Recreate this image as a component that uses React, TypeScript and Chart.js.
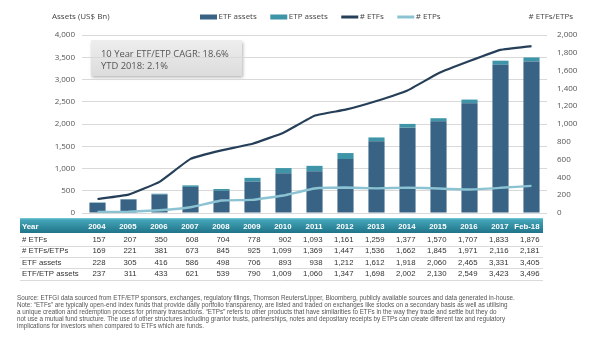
import React, { useEffect, useRef } from 'react';
import { Chart, registerables } from 'chart.js';

Chart.register(...registerables);

const years = ['2004', '2005', '2006', '2007', '2008', '2009', '2010', '2011', '2012', '2013', '2014', '2015', '2016', '2017', 'Feb-18'];
const numETFs = [157, 207, 350, 608, 704, 778, 902, 1093, 1161, 1259, 1377, 1570, 1707, 1833, 1876];
const numETFsETPs = [169, 221, 381, 673, 845, 925, 1099, 1369, 1447, 1536, 1662, 1845, 1971, 2116, 2181];
const etfAssets = [228, 305, 416, 586, 498, 706, 893, 938, 1212, 1612, 1918, 2060, 2465, 3331, 3405];
const etfEtpAssets = [237, 311, 433, 621, 539, 790, 1009, 1060, 1347, 1698, 2002, 2130, 2549, 3423, 3496];

// ETP-only values (difference between ETF/ETP totals and ETF values)
const etpAssets = etfEtpAssets.map((v, i) => v - etfAssets[i]);
const numETPs = numETFsETPs.map((v, i) => v - numETFs[i]);

const leftMax = 4000;
const leftStep = 500;
const rightMax = 2000;
const rightStep = 200;

const tableRowLabels = ['# ETFs', '# ETFs/ETPs', 'ETF assets', 'ETF/ETP assets'];
const tableRowValues = [numETFs, numETFsETPs, etfAssets, etfEtpAssets];

const cagrLines = ['10 Year ETF/ETP CAGR: 18.6%', 'YTD 2018: 2.1%'];

const noteLines = [
  'Source: ETFGI data sourced from ETF/ETP sponsors, exchanges, regulatory filings, Thomson Reuters/Lipper, Bloomberg, publicly available sources and data generated in-house.',
  'Note: \u201CETFs\u201D are typically open-end index funds that provide daily portfolio transparency, are listed and traded on exchanges like stocks on a secondary basis as well as utilising',
  'a unique creation and redemption process for primary transactions. \u201CETPs\u201D refers to other products that have similarities to ETFs in the way they trade and settle but they do',
  'not use a mutual fund structure. The use of other structures including grantor trusts, partnerships, notes and depositary receipts by ETPs can create different tax and regulatory',
  'implications for investors when compared to ETFs which are funds.',
];

const C_ETF = '#386385';
const C_ETP = '#3f95a8';
const C_LINE_ETF = '#263f58';
const C_LINE_ETP = '#8cc3d3';
const AXIS_FONT = "'Open Sans', 'DejaVu Sans', sans-serif";
const TABLE_FONT = "'Liberation Sans', Arial, sans-serif";

const fmt = (v: number) => v.toLocaleString('en-US');

const decorPlugin = {
  id: 'decor',
  beforeDraw(chart: any) {
    const { ctx, chartArea } = chart;
    ctx.save();
    const bx = chartArea.left + 9;
    const by = chartArea.top + 5;
    const bw = 151;
    const bh = 36;
    ctx.shadowColor = 'rgba(0,0,0,0.3)';
    ctx.shadowBlur = 3;
    ctx.shadowOffsetX = 1;
    ctx.shadowOffsetY = 1.5;
    const g = ctx.createLinearGradient(0, by, 0, by + bh);
    g.addColorStop(0, '#eeeeee');
    g.addColorStop(1, '#dcdcdc');
    ctx.fillStyle = g;
    ctx.fillRect(bx, by, bw, bh);
    ctx.restore();
    ctx.save();
    ctx.fillStyle = '#555555';
    ctx.font = `9.4px ${AXIS_FONT}`;
    ctx.textBaseline = 'middle';
    ctx.textAlign = 'left';
    ctx.fillText(cagrLines[0], bx + 10, by + 14);
    ctx.fillText(cagrLines[1], bx + 10, by + 26);
    ctx.restore();
  },
  afterDraw(chart: any) {
    const { ctx, chartArea, scales } = chart;
    const xs = scales.x;
    ctx.save();

    // axis titles
    ctx.fillStyle = '#444444';
    ctx.font = `8px ${AXIS_FONT}`;
    ctx.textBaseline = 'middle';
    ctx.textAlign = 'left';
    ctx.fillText('Assets (US$ Bn)', 52, 17);
    ctx.textAlign = 'right';
    ctx.fillText('# ETFs/ETPs', 573, 17);

    // legend
    let lx = chartArea.left + 118;
    const ly = 17;
    chart.data.datasets.forEach((ds: any) => {
      const isBar = ds.type === 'bar';
      ctx.fillStyle = isBar ? ds.backgroundColor : ds.borderColor;
      if (isBar) ctx.fillRect(lx, ly - 2.5, 17, 5);
      else ctx.fillRect(lx, ly - 1.5, 17, 3);
      lx += 18.5;
      ctx.fillStyle = '#444444';
      ctx.textAlign = 'left';
      ctx.font = `8px ${AXIS_FONT}`;
      ctx.fillText(ds.label, lx, ly);
      lx += ctx.measureText(ds.label).width + 13.5;
    });

    // table
    const tLeft = 20;
    const tRight = 543;
    const hTop = 218;
    const hBot = 233;
    const hg = ctx.createLinearGradient(0, hTop, 0, hBot);
    hg.addColorStop(0, '#7fd0df');
    hg.addColorStop(0.12, '#45a5b8');
    hg.addColorStop(1, '#1f7489');
    ctx.fillStyle = hg;
    ctx.fillRect(tLeft, hTop, tRight - tLeft, hBot - hTop);

    ctx.fillStyle = '#ffffff';
    ctx.font = `bold 7.8px ${TABLE_FONT}`;
    ctx.textAlign = 'left';
    ctx.fillText('Year', 22, 227);
    ctx.textAlign = 'right';
    years.forEach((y, i) => {
      ctx.fillText(y, xs.getPixelForValue(i) + 8, 227);
    });

    const rowH = 11.4;
    tableRowLabels.forEach((label, r) => {
      const cy = 239.8 + r * rowH;
      ctx.fillStyle = '#333333';
      ctx.font = `7.8px ${TABLE_FONT}`;
      ctx.textAlign = 'left';
      ctx.fillText(label, 22, cy);
      ctx.textAlign = 'right';
      tableRowValues[r].forEach((v, i) => {
        ctx.fillText(fmt(v), xs.getPixelForValue(i) + 8, cy);
      });
      ctx.strokeStyle = '#d0d0d0';
      ctx.lineWidth = 0.8;
      const ly2 = Math.round(cy + 5.8) + 0.5;
      ctx.beginPath();
      ctx.moveTo(tLeft, ly2);
      ctx.lineTo(tRight, ly2);
      ctx.stroke();
    });

    ctx.restore();
  },
};

export default function App() {
  const canvasRef = useRef<HTMLCanvasElement | null>(null);

  useEffect(() => {
    if (!canvasRef.current) return;
    const chart = new Chart(canvasRef.current, {
      type: 'bar',
      data: {
        labels: years,
        datasets: [
          {
            type: 'bar',
            label: 'ETF assets',
            data: etfAssets,
            backgroundColor: C_ETF,
            yAxisID: 'y',
            stack: 'assets',
            barPercentage: 0.65,
            categoryPercentage: 0.8,
            order: 2,
          },
          {
            type: 'bar',
            label: 'ETP assets',
            data: etpAssets,
            backgroundColor: C_ETP,
            yAxisID: 'y',
            stack: 'assets',
            barPercentage: 0.65,
            categoryPercentage: 0.8,
            order: 2,
          },
          {
            type: 'line',
            label: '# ETFs',
            data: numETFs,
            borderColor: C_LINE_ETF,
            backgroundColor: C_LINE_ETF,
            borderWidth: 2.2,
            pointRadius: 0,
            tension: 0.1,
            yAxisID: 'y1',
            order: 1,
          },
          {
            type: 'line',
            label: '# ETPs',
            data: numETPs,
            borderColor: C_LINE_ETP,
            backgroundColor: C_LINE_ETP,
            borderWidth: 2.4,
            pointRadius: 0,
            tension: 0.1,
            yAxisID: 'y1',
            order: 1,
          },
        ],
      },
      options: {
        responsive: true,
        maintainAspectRatio: false,
        animation: false,
        layout: { padding: { top: 35, bottom: 133, left: 0, right: 0 } },
        plugins: {
          legend: { display: false },
          tooltip: { enabled: false },
          title: { display: false },
        },
        scales: {
          x: {
            display: false,
            stacked: true,
            offset: true,
          },
          y: {
            position: 'left',
            stacked: true,
            min: 0,
            max: leftMax,
            afterFit: (s: any) => { s.width = 82; },
            ticks: {
              stepSize: leftStep,
              padding: 7,
              color: '#555555',
              font: { size: 8, family: AXIS_FONT },
              callback: (v: any) => fmt(Number(v)),
            },
            grid: { color: '#d9d9d9', drawTicks: false, lineWidth: 1 },
            border: { display: false },
          },
          y1: {
            position: 'right',
            stacked: false,
            min: 0,
            max: rightMax,
            afterFit: (s: any) => { s.width = 43; },
            ticks: {
              stepSize: rightStep,
              padding: 10,
              color: '#555555',
              font: { size: 8, family: AXIS_FONT },
              callback: (v: any) => fmt(Number(v)),
            },
            grid: { display: false, drawTicks: false },
            border: { display: false },
          },
        },
      },
      plugins: [decorPlugin],
    } as any);
    return () => chart.destroy();
  }, []);

  return (
    <div style={{ position: 'fixed', left: 0, top: 0, width: 590, height: 346, background: '#ffffff', overflow: 'hidden' }}>
      <canvas ref={canvasRef} style={{ position: 'absolute', left: 0, top: 0, width: 590, height: 346 }} />
      <div
        style={{
          position: 'absolute',
          left: 17,
          top: 295,
          fontFamily: TABLE_FONT,
          fontSize: 6.3,
          lineHeight: '6.9px',
          color: '#555555',
          whiteSpace: 'nowrap',
        }}
      >
        {noteLines.map((l, i) => (
          <div key={i}>{l}</div>
        ))}
      </div>
    </div>
  );
}
